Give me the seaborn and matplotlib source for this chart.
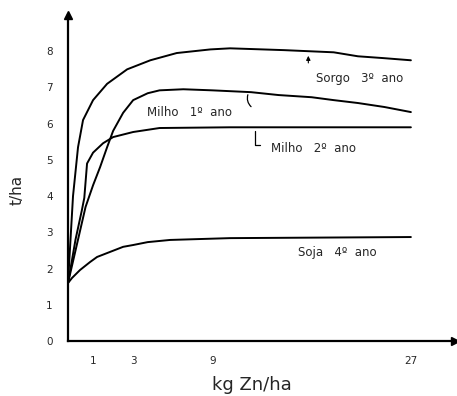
import numpy as np
import pandas as pd
import matplotlib
matplotlib.use('Agg')
import matplotlib.pyplot as plt
import seaborn as sns

# ── Data ──────────────────────────────────────────────────────────────────────
sorgo_dose = [0, 0.2, 0.4, 0.6, 1, 1.7, 2.7, 4.3, 6.3, 8.85, 10.6, 15.5, 20, 22.2, 24.5, 27]
sorgo_t    = [1.6, 4.0, 5.35, 6.1, 6.65, 7.1, 7.5, 7.75, 7.95, 8.05, 8.08, 8.03, 7.97, 7.86, 7.81, 7.75]

milho1_dose = [0, 0.4, 0.7, 1, 1.35, 1.7, 2, 2.5, 3, 4.1, 5, 6.8, 9, 12.5, 15, 18, 20, 22.2, 24.6, 27]
milho1_t    = [1.6, 2.8, 3.7, 4.3, 4.8, 5.35, 5.8, 6.3, 6.65, 6.84, 6.92, 6.95, 6.92, 6.87, 6.79,
               6.73, 6.65, 6.57, 6.46, 6.32]

milho2_dose = [0, 0.3, 0.55, 0.65, 0.76, 1.0, 1.5, 2, 3, 5, 10.6, 27]
milho2_t    = [1.6, 2.8, 3.6, 3.95, 4.9, 5.2, 5.46, 5.63, 5.77, 5.88, 5.9, 5.9]

soja_dose = [0, 0.16, 0.48, 0.88, 1.2, 1.85, 2.5, 3, 4.1, 5.8, 10.6, 27]
soja_t    = [1.6, 1.74, 1.96, 2.18, 2.32, 2.46, 2.6, 2.65, 2.73, 2.79, 2.84, 2.87]

series_names = ['Sorgo 3º ano', 'Milho 1º ano', 'Milho 2º ano', 'Soja 4º ano']
x_ticks = [1, 3, 9, 27]
y_ticks = [0, 1, 2, 3, 4, 5, 6, 7, 8]

df = pd.concat([
    pd.DataFrame({'dose': d, 't': t, 'serie': n})
    for d, t, n in zip([sorgo_dose, milho1_dose, milho2_dose, soja_dose],
                       [sorgo_t, milho1_t, milho2_t, soja_t], series_names)
], ignore_index=True)

# hand-drawn x axis: spacing between doses is not uniform
_kg  = np.array([0, 1, 3, 9, 27, 31.0])
_pos = np.array([0, 25, 65, 144, 342, 386.0])

def fwd(x):
    return np.interp(x, _kg, _pos)

def inv(p):
    return np.interp(p, _pos, _kg)

# ── Plot ──────────────────────────────────────────────────────────────────────
sns.set_style('white')
plt.rcParams['font.family'] = ['DejaVu Sans']

fig = plt.figure(figsize=(4.57, 3.96), dpi=100)
ax = fig.add_axes([68/457, 55/396, 387/457, 326/396])
ax.set_xscale('function', functions=(fwd, inv))

sns.lineplot(data=df, x='dose', y='t', units='serie', estimator=None,
             color='black', linewidth=1.4, ax=ax, legend=False)

ax.set_xlim(0, 31)
ax.set_ylim(0, 9)
ax.set_xticks(x_ticks)
ax.set_xticklabels([str(v) for v in x_ticks])
ax.set_yticks(y_ticks)
ax.set_yticklabels([str(v) for v in y_ticks])
ax.tick_params(direction='in', length=3, width=1.2, labelsize=7.5, pad=11, color='black')

for s in ['top', 'right']:
    ax.spines[s].set_visible(False)
for s in ['left', 'bottom']:
    ax.spines[s].set_linewidth(1.6)
    ax.spines[s].set_color('black')

# arrow heads on the axes
ax.plot(1, 0, '>k', markersize=6, transform=ax.transAxes, clip_on=False)
ax.plot(0, 1, '^k', markersize=6, transform=ax.transAxes, clip_on=False)

ax.set_xlabel('')
ax.set_ylabel('')
fig.text(252/457, 1 - 385/396, 'kg Zn/ha', fontsize=13, ha='center', va='center')
fig.text(17/457, 1 - 190/396, 't/ha', fontsize=11, rotation=90, ha='center', va='center')

# curve labels
fs = 8.5
ax.text(18.4, 7.26, 'Sorgo   3º  ano', fontsize=fs, va='center', ha='left')
ax.annotate('', xy=(17.7, 7.95), xytext=(17.7, 7.6),
            arrowprops=dict(arrowstyle='-|>', color='black', lw=0.8, mutation_scale=6))
ax.text(4.06, 6.32, 'Milho   1º  ano', fontsize=fs, va='center', ha='left')
ax.annotate('', xy=(12.3, 6.87), xytext=(12.7, 6.42),
            arrowprops=dict(arrowstyle='-', color='black', lw=0.9,
                            connectionstyle='arc3,rad=-0.4'))
ax.text(14.3, 5.32, 'Milho   2º  ano', fontsize=fs, va='center', ha='left')
ax.annotate('', xy=(12.9, 5.88), xytext=(13.6, 5.4),
            arrowprops=dict(arrowstyle='-', color='black', lw=0.9,
                            connectionstyle='angle,angleA=0,angleB=90,rad=0'))
ax.text(16.8, 2.43, 'Soja   4º  ano', fontsize=fs, va='center', ha='left')

fig.savefig('out.png', dpi=100)
